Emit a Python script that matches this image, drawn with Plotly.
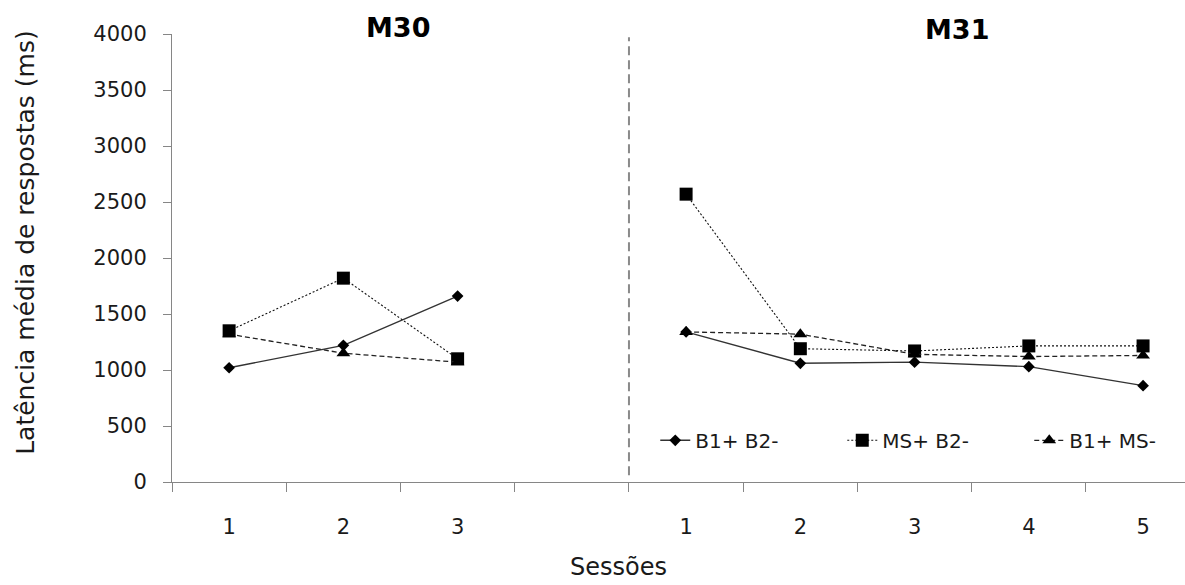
import plotly.graph_objects as go

# Session labels per subject
sessions_m30 = ["1", "2", "3"]
sessions_m31 = ["1", "2", "3", "4", "5"]

# Mean response latency (ms) per condition
b1b2_m30 = [1020, 1220, 1660]
b1b2_m31 = [1340, 1060, 1070, 1030, 860]
msb2_m30 = [1350, 1820, 1100]
msb2_m31 = [2570, 1190, 1170, 1215, 1215]
b1ms_m30 = [1320, 1150, 1070]
b1ms_m31 = [1340, 1320, 1140, 1120, 1130]

series_names = ["B1+ B2-", "MS+ B2-", "B1+ MS-"]
y_ticks = [0, 500, 1000, 1500, 2000, 2500, 3000, 3500, 4000]

# Category positions: M30 sessions, one empty slot, then M31 sessions
n30 = len(sessions_m30)
x_m30 = list(range(n30))
x_m31 = [n30 + 1 + i for i in range(len(sessions_m31))]
x_all = x_m30 + [n30] + x_m31
boundaries = [i - 0.5 for i in range(len(x_all))]


def joined(a, b):
    return a + [None] + b


FONT = "DejaVu Sans"
TXT = "#1a1a1a"
AX = "#868686"

fig = go.Figure()
styles = [
    dict(values=joined(b1b2_m30, b1b2_m31), dash="solid", color="#333333",
         width=1.4, symbol="diamond", size=9),
    dict(values=joined(msb2_m30, msb2_m31), dash="2px,2px", color="#111111",
         width=1.1, symbol="square", size=13),
    dict(values=joined(b1ms_m30, b1ms_m31), dash="5px,3px", color="#222222",
         width=1.3, symbol="triangle-up", size=12),
]
for name, st in zip(series_names, styles):
    fig.add_trace(go.Scatter(
        x=x_all, y=st["values"], name=name, mode="lines+markers",
        line=dict(color=st["color"], width=st["width"], dash=st["dash"]),
        marker=dict(symbol=st["symbol"], size=st["size"], color="black"),
        connectgaps=False,
    ))

# plot area in pixels
L, R, T, B = 171.5, 0, 33.7, 103.3
W, H = 1185, 585
pw = W - L - R
ph = H - T - B
cat_px = 114.3
x_max = -0.5 + pw / cat_px


def px_x(px):
    return (px - L) / pw


def px_y(py):
    return (H - B - py) / ph


fig.update_layout(
    width=W, height=H,
    margin=dict(l=L, r=R, t=T, b=B, pad=0, autoexpand=False),
    paper_bgcolor="white", plot_bgcolor="white",
    font=dict(family=FONT, color=TXT),
    showlegend=True,
    legend=dict(
        orientation="h", x=px_x(655), xanchor="left",
        y=px_y(440), yanchor="middle",
        font=dict(size=20, family=FONT, color=TXT),
        bgcolor="rgba(0,0,0,0)", entrywidth=142, entrywidthmode="pixels",
        itemwidth=30, tracegroupgap=0,
    ),
    xaxis=dict(
        range=[-0.5, x_max], showgrid=False, zeroline=False,
        showline=True, linecolor=AX, linewidth=1,
        tickmode="array", tickvals=x_m30 + x_m31,
        ticktext=sessions_m30 + sessions_m31,
        ticks="outside", ticklen=26, tickcolor="rgba(0,0,0,0)",
        tickfont=dict(size=21, family=FONT, color=TXT),
        minor=dict(tickmode="array", tickvals=boundaries, ticks="outside",
                   ticklen=9, tickcolor=AX, tickwidth=1, showgrid=False),
    ),
    yaxis=dict(
        range=[0, 4000], showgrid=False, zeroline=False,
        showline=True, linecolor=AX, linewidth=1,
        tickmode="array", tickvals=y_ticks,
        ticks="outside", ticklen=8, tickcolor=AX,
        tickfont=dict(size=21, family=FONT, color=TXT),
        ticklabelstandoff=12,
    ),
    shapes=[dict(
        type="line", xref="x", yref="paper",
        x0=n30 + 0.5, x1=n30 + 0.5, y0=px_y(475), y1=px_y(37),
        line=dict(color="#8a8a8a", width=2, dash="9px,5px"),
    )],
    annotations=[
        dict(text="<b>M30</b>", xref="paper", yref="paper",
             x=px_x(398), y=px_y(27), showarrow=False,
             font=dict(size=27, family=FONT, color="black"),
             xanchor="center", yanchor="middle"),
        dict(text="<b>M31</b>", xref="paper", yref="paper",
             x=px_x(957), y=px_y(29), showarrow=False,
             font=dict(size=27, family=FONT, color="black"),
             xanchor="center", yanchor="middle"),
        dict(text="Sessões", xref="paper", yref="paper",
             x=px_x(618), y=px_y(567), showarrow=False,
             font=dict(size=24, family=FONT, color=TXT),
             xanchor="center", yanchor="middle"),
        dict(text="Latência média de respostas (ms)", xref="paper", yref="paper",
             x=px_x(25), y=px_y(242), showarrow=False, textangle=-90,
             font=dict(size=25, family=FONT, color=TXT),
             xanchor="center", yanchor="middle"),
    ],
)

fig.write_html("out.html")
